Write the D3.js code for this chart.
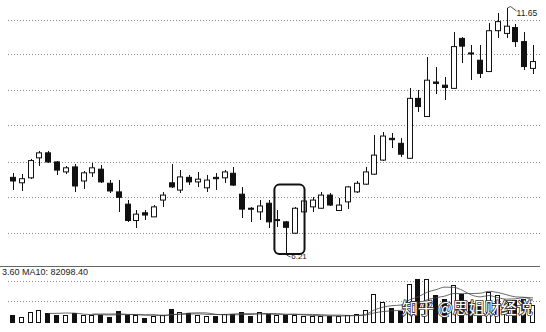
<!DOCTYPE html>
<meta charset="utf-8">
<style>

    body {
        margin: 0;
        background: #fff;
        font-family: "Liberation Sans", Arial, sans-serif;
    }

    .grid line {
        stroke: #8a8a8a;
        stroke-dasharray: 1 2;
        shape-rendering: crispEdges;
    }

    .wick {
        stroke: #111;
        stroke-width: 1;
        shape-rendering: crispEdges;
    }

    .ma {
        fill: none;
        stroke: #444;
        stroke-width: 0.8px;
    }

</style>

<svg width="546" height="332"></svg>

<script src="https://d3js.org/d3.v7.min.js"></script>
<script>

    // daily candles, left to right
    var opens  = [7.92, 7.80, 7.91, 8.35, 8.46, 8.26, 8.04, 8.15, 7.84, 8.02,
                  8.10, 7.79, 7.60, 7.33, 6.97, 7.14, 7.05, 7.42, 7.80, 7.64,
                  7.92, 7.82, 7.69, 7.92, 7.91, 8.01, 7.55, 7.24, 7.16, 7.35,
                  6.97, 6.94, 6.69, 7.16, 7.27, 7.24, 7.53, 7.19, 7.38, 7.60,
                  7.77, 7.99, 8.30, 8.78, 8.67, 8.34, 9.66, 9.26, 10.02, 9.95,
                  9.88, 10.98, 10.66, 10.50, 10.25, 11.15, 11.09, 11.22, 10.91, 10.32];
    var highs  = [8.02, 7.99, 8.32, 8.49, 8.50, 8.28, 8.17, 8.21, 8.06, 8.24,
                  8.19, 7.86, 7.86, 7.42, 7.20, 7.20, 7.31, 7.60, 8.21, 8.08,
                  7.97, 8.04, 7.97, 8.02, 8.08, 8.15, 7.71, 7.27, 7.42, 7.42,
                  7.20, 6.96, 7.26, 7.47, 7.49, 7.60, 7.58, 7.47, 7.72, 7.84,
                  8.15, 8.85, 8.93, 8.90, 8.79, 9.88, 9.84, 10.58, 10.36, 10.14,
                  11.13, 11.01, 10.84, 10.84, 11.31, 11.53, 11.65, 11.30, 11.13, 10.84];
    var lows   = [7.64, 7.62, 7.89, 8.17, 8.24, 7.97, 7.99, 7.60, 7.66, 7.93,
                  7.80, 7.58, 7.16, 6.94, 6.80, 6.98, 7.04, 7.27, 7.69, 7.58,
                  7.75, 7.71, 7.60, 7.64, 7.80, 7.73, 7.02, 6.94, 6.98, 6.80,
                  6.83, 6.21, 6.68, 7.14, 7.16, 7.22, 7.29, 7.18, 7.22, 7.58,
                  7.75, 7.97, 8.28, 8.57, 8.37, 8.32, 9.37, 9.24, 9.76, 9.62,
                  9.86, 10.43, 10.06, 10.10, 10.24, 10.98, 10.98, 10.80, 10.28, 10.20];
    var closes = [7.84, 7.89, 8.29, 8.46, 8.26, 8.08, 8.13, 7.73, 8.02, 8.13,
                  7.82, 7.62, 7.48, 6.97, 7.11, 7.09, 7.27, 7.53, 7.71, 7.93,
                  7.82, 7.88, 7.86, 7.89, 8.04, 7.75, 7.22, 7.22, 7.29, 6.94,
                  6.99, 6.82, 7.24, 7.40, 7.42, 7.53, 7.31, 7.31, 7.71, 7.79,
                  8.04, 8.41, 8.83, 8.75, 8.43, 9.66, 9.48, 10.06, 9.99, 9.90,
                  10.80, 10.81, 10.64, 10.21, 11.15, 11.35, 11.25, 10.91, 10.36, 10.47];

    // volume, in thousands
    var volumes = [77, 60, 110, 127, 103, 83, 77, 103, 77, 77,
                   83, 60, 120, 83, 77, 53, 70, 77, 137, 110,
                   103, 83, 70, 67, 87, 93, 110, 70, 110, 93,
                   83, 77, 77, 70, 70, 70, 70, 70, 77, 87,
                   127, 293, 210, 150, 117, 393, 443, 437, 277, 243,
                   383, 293, 210, 177, 310, 277, 217, 227, 237, 177];

    var priceGrid = [11.39, 10.64, 9.84, 9.07, 8.26, 7.49, 6.70];
    var volumeGrid = [220, 420];
    var maPeriods = [5, 10];

    var highLabel = "11.65",
        lowLabel = "6.21",
        volumeLabel = "3.60 MA10: 82098.40",
        watermark = "知乎 @思姐财经说";

    // the boxed bottom (candle indexes and price span)
    var boxFrom = 30, boxTo = 32, boxPrices = [6.21, 7.76];

    var svg = d3.select("svg"),
        n = opens.length;

    var data = d3.range(n).map(function(i) {
        return {i: i, o: opens[i], h: highs[i], l: lows[i], c: closes[i], v: volumes[i]};
    });

    var x = d3.scaleLinear().domain([0, n - 1]).range([13, 533]),
        y = d3.scaleLinear().domain([6.21, 11.65]).range([255, 8]),
        yv = d3.scaleLinear().domain([0, 440]).range([323, 279]);

    function px(v) { return Math.round(v) + 0.5; }
    function up(d) { return d.c >= d.o; }

    // dotted price gridlines
    svg.append("g")
        .attr("class", "grid")
        .selectAll("line")
        .data(priceGrid)
        .enter().append("line")
        .attr("x1", 8).attr("x2", 540)
        .attr("y1", function(d) { return px(y(d)); })
        .attr("y2", function(d) { return px(y(d)); });

    // volume panel gridlines
    svg.append("g")
        .attr("class", "grid")
        .selectAll("line")
        .data(volumeGrid)
        .enter().append("line")
        .attr("x1", 8).attr("x2", 540)
        .attr("y1", function(d) { return px(yv(d)); })
        .attr("y2", function(d) { return px(yv(d)); });

    // panel separator
    svg.append("line")
        .attr("x1", 0).attr("x2", 540)
        .attr("y1", 266.5).attr("y2", 266.5)
        .attr("stroke", "#666")
        .attr("stroke-width", 1);

    svg.append("text")
        .attr("x", 2)
        .attr("y", 274.5)
        .style("font-size", "9px")
        .attr("fill", "#222")
        .text(volumeLabel);

    // candles
    var candle = svg.append("g").selectAll("g")
        .data(data)
        .enter().append("g");

    candle.append("line")
        .attr("class", "wick")
        .attr("x1", function(d) { return px(x(d.i)); })
        .attr("x2", function(d) { return px(x(d.i)); })
        .attr("y1", function(d) { return y(d.h); })
        .attr("y2", function(d) { return y(d.l); });

    candle.append("rect")
        .attr("x", function(d) { return Math.round(x(d.i)) - 2.5; })
        .attr("y", function(d) { return y(Math.max(d.o, d.c)); })
        .attr("width", 5)
        .attr("height", function(d) {
            return Math.max(1, y(Math.min(d.o, d.c)) - y(Math.max(d.o, d.c)));
        })
        .attr("fill", function(d) { return up(d) ? "#fff" : "#111"; })
        .attr("stroke", "#111")
        .attr("stroke-width", 1);

    // volume bars
    svg.append("g").selectAll("rect")
        .data(data)
        .enter().append("rect")
        .attr("x", function(d) { return Math.round(x(d.i)) - 2.5; })
        .attr("y", function(d) { return Math.round(yv(d.v)) + 0.5; })
        .attr("width", 4)
        .attr("height", function(d) { return yv(0) - Math.round(yv(d.v)) - 1; })
        .attr("fill", function(d) { return up(d) ? "#fff" : "#111"; })
        .attr("stroke", "#111")
        .attr("stroke-width", 1);

    // volume moving averages
    var maLine = d3.line()
        .curve(d3.curveMonotoneX)
        .x(function(d) { return x(d.i); })
        .y(function(d) { return yv(d.v); });

    maPeriods.forEach(function(p) {
        var ma = data.slice(p - 1).map(function(d) {
            return {i: d.i, v: d3.mean(volumes.slice(d.i - p + 1, d.i + 1))};
        });
        svg.append("path")
            .attr("class", "ma")
            .attr("d", maLine(ma));
    });

    // high / low marks
    var hi = data[d3.maxIndex(highs)],
        lo = data[d3.minIndex(lows)];

    svg.append("path")
        .attr("d", "M" + px(x(hi.i)) + "," + y(hi.h) + "l3,-1.5l6,4.5")
        .attr("fill", "none")
        .attr("stroke", "#222")
        .attr("stroke-width", 0.8);

    svg.append("text")
        .attr("x", x(hi.i) + 10)
        .attr("y", y(hi.h) + 8)
        .style("font-size", "8.5px")
        .attr("fill", "#222")
        .text(highLabel);

    svg.append("path")
        .attr("d", "M" + px(x(lo.i)) + "," + y(lo.l) + "l4,2")
        .attr("fill", "none")
        .attr("stroke", "#222")
        .attr("stroke-width", 0.8);

    svg.append("text")
        .attr("x", x(lo.i) + 5)
        .attr("y", y(lo.l) + 4)
        .style("font-size", "8px")
        .attr("fill", "#222")
        .text(lowLabel);

    // the highlight box round the bottom
    svg.append("rect")
        .attr("x", x(boxFrom) - 3)
        .attr("y", y(boxPrices[1]))
        .attr("width", x(boxTo) + 9.5 - (x(boxFrom) - 3))
        .attr("height", y(boxPrices[0]) - 1 - y(boxPrices[1]))
        .attr("rx", 5)
        .attr("fill", "none")
        .attr("stroke", "#111")
        .attr("stroke-width", 2);

    // watermark
    svg.append("text")
        .attr("x", 402)
        .attr("y", 314)
        .style("font-family", "'Noto Sans CJK SC', sans-serif")
        .style("font-size", "16px")
        .style("paint-order", "stroke")
        .attr("fill", "#fff")
        .attr("stroke", "#333")
        .attr("stroke-width", 1.6)
        .text(watermark);

</script>
